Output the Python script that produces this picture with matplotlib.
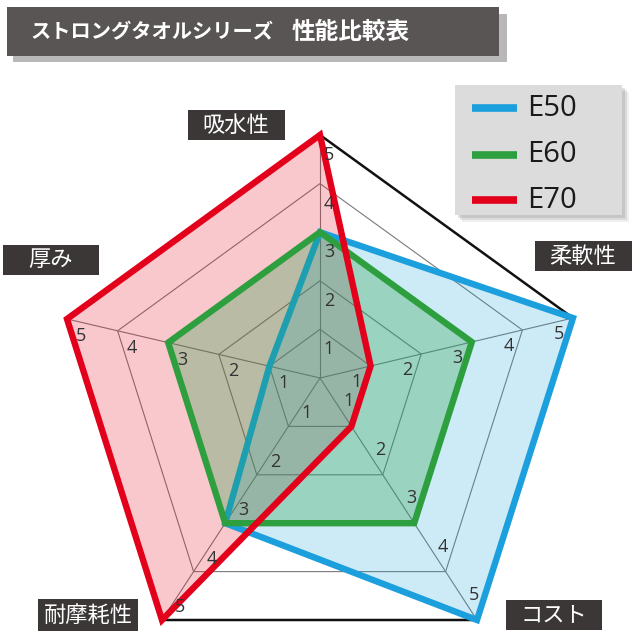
import matplotlib
matplotlib.use('Agg')
import matplotlib.pyplot as plt
from matplotlib.patches import Rectangle, Polygon
import numpy as np

plt.rcParams['font.family'] = ['Noto Sans CJK JP', 'DejaVu Sans']

# ---------------- data ----------------
title = 'ストロングタオルシリーズ　性能比較表'
categories = ['吸水性', '柔軟性', 'コスト', '耐摩耗性', '厚み']
series_names = ['E50', 'E60', 'E70']
e50 = [3, 5, 5, 3, 1]
e60 = [3, 3, 3, 3, 3]
e70 = [5, 1, 1, 5, 5]
levels = [1, 2, 3, 4, 5]

# ---------------- layout (pixel canvas) ----------------
W = H = 640
center = np.array([320.0, 378.0])
# direction of each spoke, pixels per unit value (y grows downward)
spoke_vec = np.array([
    [0.0, -48.6],
    [50.6, -12.0],
    [31.4, 48.4],
    [-31.6, 48.4],
    [-50.6, -11.8],
])
tick_offset = [(9, 20), (-14, 16), (-3, -25), (18, -13), (14, 17)]
label_boxes = [  # center x, center y, width, height
    (236, 125, 97, 30),
    (583, 256, 97, 30),
    (554, 615, 96, 30),
    (88, 615, 100, 32),
    (51, 260, 96, 30),
]
line_colors = ['#1b9fdd', '#2d9f3f', '#e3001b']
fill_colors = ['#1ea0dc', '#28a046', '#e6142a']
fill_alpha = [0.22, 0.30, 0.23]


def pts(values):
    v = np.asarray(values, dtype=float)[:, None]
    return center + v * spoke_vec


fig = plt.figure(figsize=(6.4, 6.4), dpi=100)
ax = fig.add_axes([0, 0, 1, 1])
ax.set_xlim(0, W)
ax.set_ylim(H, 0)
ax.axis('off')

# ---- title bar ----
ax.add_patch(Rectangle((13, 14), 494, 48, facecolor='#b8b8b8', edgecolor='none', zorder=1))
ax.add_patch(Rectangle((7, 7), 492, 49, facecolor='#595555', edgecolor='none', zorder=2))
title_parts = title.split('　')
ax.text(30, 32, title_parts[0], color='white', fontsize=14.6, fontweight='bold',
        va='center', ha='left', zorder=3)
ax.text(292, 32, title_parts[1], color='white', fontsize=17, fontweight='bold',
        va='center', ha='left', zorder=3)

# ---- grid ----
n = len(categories)
for lv in levels[:-1]:
    p = pts([lv] * n)
    ax.add_patch(Polygon(p, closed=True, fill=False, edgecolor='#7a7a7a',
                         linewidth=0.8, zorder=1))
outer = pts([levels[-1]] * n)
for k in range(n):
    ax.plot([center[0], outer[k, 0]], [center[1], outer[k, 1]],
            color='#7a7a7a', linewidth=0.8, zorder=1)
ax.add_patch(Polygon(outer, closed=True, fill=False, edgecolor='#111111',
                     linewidth=1.8, zorder=1.5, joinstyle='miter'))

# ---- series ----
series = [e50, e60, e70]
fill_z = [3, 4, 2]
line_z = [3.5, 4.5, 6]
for i, vals in enumerate(series):
    p = pts(vals)
    ax.add_patch(Polygon(p, closed=True, facecolor=fill_colors[i], alpha=fill_alpha[i],
                         edgecolor='none', zorder=fill_z[i]))
    ax.add_patch(Polygon(p, closed=True, fill=False, edgecolor=line_colors[i],
                         linewidth=4.6, joinstyle='miter', zorder=line_z[i]))

# ---- tick labels ----
for k in range(n):
    for lv in levels:
        x, y = center + lv * spoke_vec[k]
        dx, dy = tick_offset[k]
        ax.text(x + dx, y + dy, str(lv), fontsize=13, color='#333333',
                family=['Open Sans', 'DejaVu Sans'], ha='center', va='center', zorder=10)

# ---- category labels ----
for (cx, cy, bw, bh), name in zip(label_boxes, categories):
    ax.add_patch(Rectangle((cx - bw / 2, cy - bh / 2), bw, bh, facecolor='#3b3737',
                           edgecolor='none', zorder=11))
    ax.text(cx, cy, name, color='white', fontsize=16, ha='center', va='center', zorder=12)

# ---- legend ----
for s, a in [(3, 0.25), (5, 0.2), (7, 0.12)]:
    ax.add_patch(Rectangle((455 + s, 85 + s), 167, 130, facecolor='#888888',
                           edgecolor='none', alpha=a, zorder=11))
ax.add_patch(Rectangle((455, 85), 167, 130, facecolor='#dcdcdc', edgecolor='none', zorder=12))
leg_y = [108, 155, 200]
for i, name in enumerate(series_names):
    ax.plot([472, 517], [leg_y[i], leg_y[i]], color=line_colors[i], linewidth=5.5,
            solid_capstyle='butt', zorder=13)
    ax.text(527, leg_y[i], name, fontsize=21, color='#1a1a1a',
            family=['Open Sans', 'DejaVu Sans'], ha='left', va='center', zorder=13)

fig.savefig('out.png', dpi=100)
